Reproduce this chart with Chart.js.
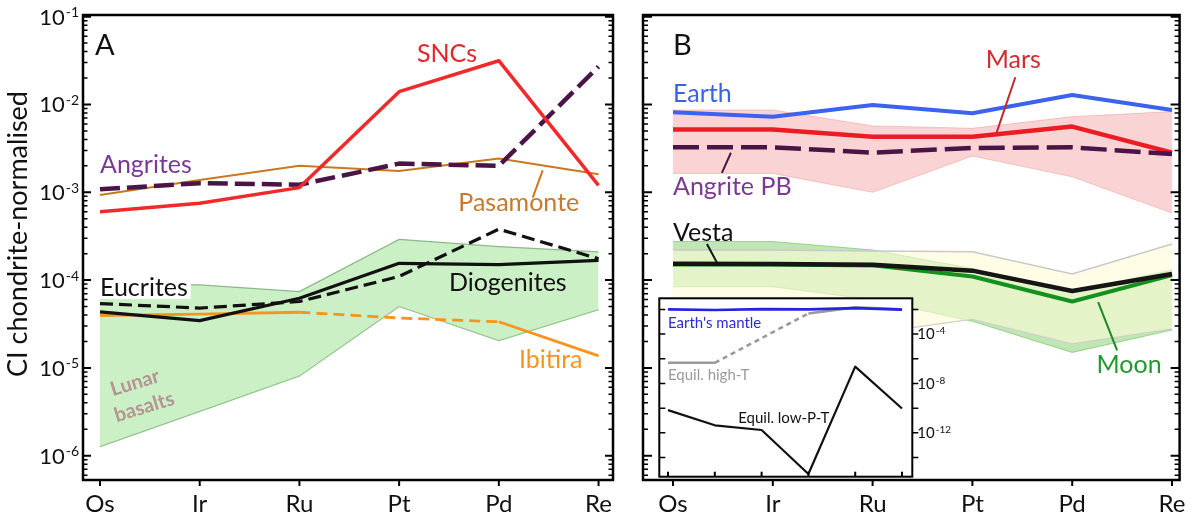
<!DOCTYPE html>
<html>
<head>
<meta charset="utf-8">
<title>CI chondrite-normalised HSE patterns</title>
<script src="https://cdn.jsdelivr.net/npm/chart.js@4.4.1/dist/chart.umd.min.js"></script>
<style>
  html, body { margin: 0; padding: 0; background: #fff; }
  #fig { position: relative; width: 1192px; height: 522px; overflow: hidden; background: #fff; }
  #fig canvas { position: absolute; }
</style>
</head>
<body>
<div id="fig">
  <canvas id="panelA" width="625" height="522" style="left:0px;top:0px"></canvas>
  <canvas id="panelB" width="567" height="522" style="left:625px;top:0px"></canvas>
  <canvas id="inset" width="300" height="186" style="left:657px;top:296px"></canvas>
</div>
<script>
// ---- element order along the x axis ----
const elements = ['Os', 'Ir', 'Ru', 'Pt', 'Pd', 'Re'];

// ---- tick labels (powers of ten) ----
const yTickExps = [-1, -2, -3, -4, -5, -6];
const insetTickExps = [-2, -4, -6, -8, -10, -12, -14];
const insetLabelExps = [-4, -8, -12];

// ---- panel A: meteorite groups ----
const sncs       = [6.0e-4, 7.5e-4, 1.13e-3, 1.4e-2, 3.15e-2, 1.2e-3];
const angrites   = [1.08e-3, 1.27e-3, 1.22e-3, 2.12e-3, 2.0e-3, 2.7e-2];
const pasamonte  = [9.3e-4, 1.38e-3, 2.0e-3, 1.75e-3, 2.42e-3, 1.6e-3];
const eucrites   = [5.4e-5, 4.8e-5, 5.7e-5, 1.1e-4, 3.8e-4, 1.75e-4];
const diogenites = [4.35e-5, 3.45e-5, 6.2e-5, 1.55e-4, 1.5e-4, 1.68e-4];
const ibitira    = [3.95e-5, 4.1e-5, 4.3e-5, 3.7e-5, 3.35e-5, 1.37e-5];
const lunarMax   = [9.0e-5, 8.8e-5, 7.4e-5, 2.9e-4, 2.4e-4, 2.1e-4];
const lunarMin   = [1.27e-6, 3.2e-6, 8.1e-6, 5.0e-5, 2.05e-5, 4.6e-5];

// ---- panel B: planetary bodies ----
const earth     = [8.15e-3, 7.26e-3, 9.87e-3, 7.95e-3, 1.28e-2, 8.65e-3];
const mars      = [5.2e-3, 5.2e-3, 4.3e-3, 4.3e-3, 5.6e-3, 2.83e-3];
const marsMax   = [8.65e-3, 8.65e-3, 5.7e-3, 5.35e-3, 7.26e-3, 8.3e-3];
const marsMin   = [1.64e-3, 1.64e-3, 1.0e-3, 2.59e-3, 1.5e-3, 5.8e-4];
const angritePB = [3.25e-3, 3.25e-3, 2.83e-3, 3.2e-3, 3.25e-3, 2.73e-3];
const vesta     = [1.53e-4, 1.52e-4, 1.49e-4, 1.28e-4, 7.5e-5, 1.17e-4];
const moon      = [1.5e-4, 1.5e-4, 1.47e-4, 1.1e-4, 5.7e-5, 1.14e-4];
const vestaMax  = [2.2e-4, 2.2e-4, 2.15e-4, 2.1e-4, 1.17e-4, 2.57e-4];
const vestaMin  = [2.2e-5, 2.2e-5, 2.5e-5, 3.6e-5, 1.9e-5, 2.8e-5];
const moonMax   = [2.75e-4, 2.75e-4, 2.2e-4, 1.35e-4, 7.5e-5, 1.3e-4];
const moonMin   = [8.4e-5, 8.4e-5, 6.0e-5, 3.4e-5, 1.5e-5, 2.7e-5];

// ---- inset: equilibrium models vs. Earth's mantle ----
const insetMantle = [1.0e-2, 8.9e-3, 1.05e-2, 1.0e-2, 1.26e-2, 9.5e-3];
const insetHighT  = [4.7e-7, 4.7e-7, null, 4.7e-3, 1.45e-2, 1.0e-2];
const insetLowPT  = [6.9e-11, 4.1e-12, 1.7e-12, 4.6e-16, 2.3e-7, 9.3e-11];

const FONT = 'Lato, "Open Sans", sans-serif';
const f = (size, weight) => (weight ? weight + ' ' : '') + size + 'px ' + FONT;

// "10" with a raised exponent, vertically centred on y
function drawPow(ctx, x, y, exp, big, small, align) {
  const e = String(exp);
  ctx.font = f(big);
  const wBase = ctx.measureText('10').width;
  ctx.font = f(small);
  const wExp = ctx.measureText(e).width;
  const x0 = align === 'right' ? x - wBase - wExp - 1 : x;
  ctx.textAlign = 'left';
  ctx.textBaseline = 'alphabetic';
  ctx.font = f(big);
  ctx.fillText('10', x0, y + big * 0.36);
  ctx.font = f(small);
  ctx.fillText(e, x0 + wBase + 1, y + big * 0.02);
}

const decor = {
  id: 'decor',
  beforeDatasetsDraw(chart, args, o) {
    if (!o.background) return;
    const { ctx, chartArea: a } = chart;
    ctx.save();
    ctx.fillStyle = o.background;
    ctx.fillRect(a.left, a.top, a.right - a.left, a.bottom - a.top);
    ctx.restore();
  },
  afterDatasetsDraw(chart, args, o) {
    const { ctx, chartArea: a } = chart;
    const xs = chart.scales.x, ys = chart.scales.y;
    const px = v => xs.getPixelForValue(v);
    const py = v => ys.getPixelForValue(v);
    ctx.save();

    // leader lines from labels to curves
    (o.leaders || []).forEach(l => {
      ctx.beginPath();
      ctx.strokeStyle = l.color;
      ctx.lineWidth = l.width || 2;
      ctx.moveTo(px(l.from[0]), py(l.from[1]));
      ctx.lineTo(px(l.to[0]), py(l.to[1]));
      ctx.stroke();
    });

    // series labels
    (o.texts || []).forEach(t => {
      ctx.save();
      ctx.translate(px(t.at[0]), py(t.at[1]));
      if (t.rotate) ctx.rotate(t.rotate * Math.PI / 180);
      ctx.font = t.font;
      ctx.textAlign = t.align || 'left';
      ctx.textBaseline = 'middle';
      const lines = t.text.split('\n');
      if (t.box) {
        const w = Math.max(...lines.map(s => ctx.measureText(s).width));
        ctx.fillStyle = t.box;
        ctx.fillRect(-3, -t.boxH / 2, w + 6, t.boxH);
      }
      ctx.fillStyle = t.color;
      lines.forEach((s, i) => ctx.fillText(s, (t.indent || [])[i] || 0, i * (t.lineHeight || 0)));
      ctx.restore();
    });

    // axis title
    if (o.title) {
      ctx.save();
      ctx.translate(o.title.x, o.title.y);
      ctx.rotate(-Math.PI / 2);
      ctx.font = o.title.font;
      ctx.fillStyle = '#111';
      ctx.textAlign = 'center';
      ctx.textBaseline = 'middle';
      ctx.fillText(o.title.text, 0, 0);
      ctx.restore();
    }

    // frame
    ctx.strokeStyle = '#000';
    ctx.lineWidth = o.frameWidth || 2.5;
    ctx.strokeRect(a.left, a.top, a.right - a.left, a.bottom - a.top);

    // y ticks
    const yt = o.yTicks;
    if (yt) {
      const tick = (v, len, w) => {
        const y = py(v);
        ctx.lineWidth = w;
        ctx.beginPath();
        if (yt.left) {
          const d = yt.left === 'in' ? len : -len;
          ctx.moveTo(a.left, y); ctx.lineTo(a.left + d, y);
        }
        if (yt.right) {
          const d = yt.right === 'in' ? -len : len;
          ctx.moveTo(a.right, y); ctx.lineTo(a.right + d, y);
        }
        ctx.stroke();
      };
      const lo = ys.min, hi = ys.max;
      yt.major.forEach(e => { const v = Math.pow(10, e); if (v >= lo && v <= hi) tick(v, yt.majorLen, yt.majorWidth || 2); });
      if (yt.minor) {
        for (let e = Math.floor(Math.log10(lo)); e <= Math.ceil(Math.log10(hi)); e++) {
          for (let m = 2; m <= 9; m++) {
            const v = m * Math.pow(10, e);
            if (v > lo && v < hi) tick(v, yt.minorLen, 1.5);
          }
        }
      }
      if (yt.labels) {
        ctx.fillStyle = '#111';
        yt.labels.forEach(e => {
          const y = py(Math.pow(10, e));
          if (yt.labelSide === 'right') drawPow(ctx, a.right + yt.labelGap, y, e, yt.big, yt.small, 'left');
          else drawPow(ctx, a.left - yt.labelGap, y, e, yt.big, yt.small, 'right');
        });
      }
    }

    // x ticks and element labels
    const xt = o.xTicks;
    if (xt) {
      ctx.lineWidth = 2;
      ctx.strokeStyle = '#000';
      xt.values.forEach((v, i) => {
        const x = px(v);
        ctx.beginPath();
        ctx.moveTo(x, a.bottom);
        ctx.lineTo(x, a.bottom + (xt.dir === 'in' ? -xt.len : xt.len));
        ctx.stroke();
        if (xt.labels) {
          ctx.font = xt.font;
          ctx.fillStyle = '#111';
          ctx.textAlign = 'center';
          ctx.textBaseline = 'alphabetic';
          ctx.fillText(xt.labels[i], x, a.bottom + xt.labelOffset);
        }
      });
    }
    ctx.restore();
  }
};

const pts = arr => arr.map((v, i) => ({ x: i, y: v }));
function line(label, arr, color, width, order, extra) {
  return Object.assign({
    label, data: pts(arr), borderColor: color, borderWidth: width,
    pointRadius: 0, fill: false, tension: 0, order, borderJoinStyle: 'round'
  }, extra || {});
}
function band(label, upper, lower, fillColor, edgeColor, edgeWidth, order) {
  return [
    { label: label + ' max', data: pts(upper), borderColor: edgeColor, borderWidth: edgeWidth,
      backgroundColor: fillColor, fill: '+1', pointRadius: 0, tension: 0, order },
    { label: label + ' min', data: pts(lower), borderColor: edgeColor, borderWidth: edgeWidth,
      fill: false, pointRadius: 0, tension: 0, order: order + 0.5 }
  ];
}

function options(xRange, yRange, padding, decorOpts) {
  return {
    responsive: false, animation: false, devicePixelRatio: 1, events: [],
    layout: { padding },
    plugins: { legend: { display: false }, tooltip: { enabled: false }, decor: decorOpts },
    scales: {
      x: { type: 'linear', display: false, min: xRange[0], max: xRange[1] },
      y: { type: 'logarithmic', display: false, min: yRange[0], max: yRange[1] }
    }
  };
}

const mainY = [Math.pow(10, -6.277), Math.pow(10, -0.981)];
const idx = elements.map((_, i) => i);
const labelFont = f(25);

// ---------- panel A ----------
const ibitiraDashed = [2, 3];   // segments starting at Ru and Pt are dashed
new Chart(document.getElementById('panelA'), {
  type: 'line',
  data: {
    datasets: [
      line('SNCs', sncs, '#ee2a2a', 3.5, 1),
      line('Angrites', angrites, '#4a1546', 4.5, 2, { borderDash: [20, 7] }),
      line('Pasamonte', pasamonte, '#c87a22', 2, 3),
      line('Eucrites', eucrites, '#111', 3.2, 4, { borderDash: [13, 6] }),
      line('Diogenites', diogenites, '#111', 3.2, 4.2),
      line('Ibitira', ibitira, '#f7941d', 2.8, 5, {
        segment: { borderDash: ctx => ibitiraDashed.includes(ctx.p0DataIndex) ? [11, 6] : undefined }
      }),
      ...band('Lunar basalts', lunarMax, lunarMin, 'rgba(170,230,160,0.6)', '#8cb88a', 1.3, 10)
    ]
  },
  options: options([-0.1705, 5.145], mainY, { left: 83, top: 15, right: 12, bottom: 42 }, {
    frameWidth: 2.5,
    title: { text: 'CI chondrite-normalised', x: 18, y: 234, font: f(27) },
    yTicks: { major: yTickExps, minor: true, majorLen: 8, minorLen: 4.5, left: 'in', right: 'in',
              labels: yTickExps, labelSide: 'left', labelGap: 4, big: 22, small: 14 },
    xTicks: { values: idx, labels: elements, len: 6, dir: 'out', font: f(24), labelOffset: 32 },
    leaders: [
      { from: [4.34, 8.7e-4], to: [4.44, 1.78e-3], color: '#c87a22', width: 2 }
    ],
    texts: [
      { text: 'A', at: [-0.05, 4.68e-2], font: f(29), color: '#111' },
      { text: 'SNCs', at: [3.48, 3.76e-2], font: labelFont, color: '#e8242b', align: 'center' },
      { text: 'Angrites', at: [0, 2.04e-3], font: labelFont, color: '#7b3995' },
      { text: 'Pasamonte', at: [4.2, 7.6e-4], font: labelFont, color: '#c8792a', align: 'center' },
      { text: 'Eucrites', at: [0, 8.1e-5], font: labelFont, color: '#111', box: '#fff', boxH: 22 },
      { text: 'Diogenites', at: [4.09, 9.3e-5], font: labelFont, color: '#111', align: 'center' },
      { text: 'Ibitira', at: [4.52, 1.23e-5], font: labelFont, color: '#f7941d', align: 'center' },
      { text: 'Lunar\nbasalts', at: [0.11, 5.6e-6], font: f(20, 'bold'), color: '#b49494',
        rotate: -17, lineHeight: 26, indent: [0, -4] }
    ]
  }),
  plugins: [decor]
});

// ---------- panel B ----------
new Chart(document.getElementById('panelB'), {
  type: 'line',
  data: {
    datasets: [
      line('Vesta', vesta, '#151515', 4.5, 1),
      line('Moon', moon, '#14901f', 4, 2),
      line('Angrite PB', angritePB, '#4a1546', 4.5, 3, { borderDash: [26, 8] }),
      line('Mars', mars, '#ec1c24', 4.5, 4),
      line('Earth', earth, '#3d62ee', 4, 5),
      ...band('Vesta range', vestaMax, vestaMin, 'rgba(255,251,214,0.6)', '#c9c9c9', 1.5, 10),
      ...band('Moon range', moonMax, moonMin, 'rgba(140,210,120,0.55)', 'rgba(110,190,100,0.6)', 1.2, 12),
      ...band('Mars range', marsMax, marsMin, 'rgba(245,160,160,0.45)', 'rgba(235,150,150,0.5)', 1, 14)
    ]
  },
  options: options([-0.3006, 5.076], mainY, { left: 18, top: 15, right: 12.4, bottom: 42 }, {
    frameWidth: 2.5,
    yTicks: { major: yTickExps, minor: true, majorLen: 9, minorLen: 5, left: 'in', right: 'in' },
    xTicks: { values: idx, labels: elements, len: 6, dir: 'out', font: f(24), labelOffset: 32 },
    leaders: [
      { from: [3.43, 2.04e-2], to: [3.24, 4.68e-3], color: '#c0282c', width: 2 },
      { from: [0.58, 2.82e-3], to: [0.49, 1.66e-3], color: '#4a1546', width: 2 },
      { from: [0.34, 2.57e-4], to: [0.45, 1.51e-4], color: '#111', width: 2 },
      { from: [4.26, 5.6e-5], to: [4.45, 1.58e-5], color: '#1a8a28', width: 2 }
    ],
    texts: [
      { text: 'B', at: [0, 4.68e-2], font: f(29), color: '#111' },
      { text: 'Earth', at: [0, 1.32e-2], font: labelFont, color: '#3d5fe6' },
      { text: 'Mars', at: [3.41, 3.24e-2], font: labelFont, color: '#d42a2e', align: 'center' },
      { text: 'Angrite PB', at: [0, 1.15e-3], font: labelFont, color: '#7b3995' },
      { text: 'Vesta', at: [0, 3.47e-4], font: labelFont, color: '#111' },
      { text: 'Moon', at: [4.57, 1.07e-5], font: labelFont, color: '#1f9a2f', align: 'center' }
    ]
  }),
  plugins: [decor]
});

// ---------- inset ----------
new Chart(document.getElementById('inset'), {
  type: 'line',
  data: {
    datasets: [
      line("Earth's mantle", insetMantle, '#2424e0', 2.6, 1),
      line('Equil. high-T', insetHighT, '#9a9a9a', 2.6, 2, {
        spanGaps: true,
        segment: { borderDash: ctx => (ctx.p0.skip || ctx.p1.skip) ? [5, 4] : undefined }
      }),
      line('Equil. low-P-T', insetLowPT, '#111', 2.2, 3)
    ]
  },
  options: options([-0.186, 5.22], [Math.pow(10, -15.551), Math.pow(10, -1.102)],
    { left: 2.3, top: 2.3, right: 44.7, bottom: 5.3 }, {
    background: '#fff',
    frameWidth: 2,
    yTicks: { major: insetTickExps, minor: false, majorLen: 6, left: 'in', right: 'out', majorWidth: 1.5,
              labels: insetLabelExps, labelSide: 'right', labelGap: 5, big: 15, small: 10 },
    xTicks: { values: idx, len: 5, dir: 'in' },
    texts: [
      { text: "Earth's mantle", at: [0, 8.1e-4], font: f(15), color: '#2b2bd6' },
      { text: 'Equil. high-T', at: [0, 4.4e-8], font: f(15), color: '#999' },
      { text: 'Equil. low-P-T', at: [1.5, 1.7e-11], font: f(15), color: '#111' }
    ]
  }),
  plugins: [decor]
});
</script>
</body>
</html>
